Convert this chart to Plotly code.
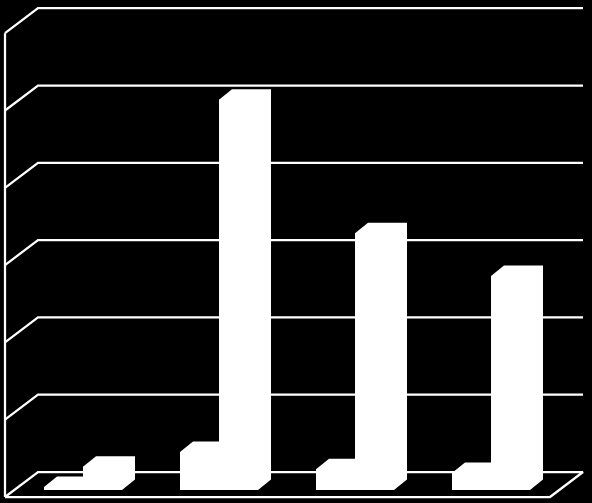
import plotly.graph_objs as go

# values, no labels are shown in the original
categories = [0, 1, 2, 3]
series_a = [0.04, 0.49, 0.27, 0.22]
series_b = [0.30, 5.05, 3.32, 2.77]
grid_values = [0, 1, 2, 3, 4, 5, 6]

W = 592
H = 503
px_per_value = 77.3 # one grid step
px_per_cat = 136
bar_w = 39 / px_per_cat

# fake 3d offsets, bars and walls
bar_dx = 13 / px_per_cat
bar_dy = 10.5 / px_per_value
wall_dx = 33 / px_per_cat
wall_dy = 25 / px_per_value

# the walls start a bit in front of and left of the bars
x_front = -39 / px_per_cat
y_front = -7 / px_per_value
x_right = 506 / px_per_cat

white = "#ffffff"
line_w = 2.25
data = []

# floor outline
data.append(go.Scatter(
	x=[x_front, x_right, x_right + wall_dx, x_front + wall_dx, x_front],
	y=[y_front, y_front, y_front + wall_dy, y_front + wall_dy, y_front],
	mode="lines", line=dict(color=white, width=line_w), hoverinfo="skip",
))

# left wall and back wall grid
data.append(go.Scatter(
	x=[x_front, x_front],
	y=[y_front, y_front + grid_values[-1]],
	mode="lines", line=dict(color=white, width=line_w), hoverinfo="skip",
))
for v in grid_values[1:]:
	data.append(go.Scatter(
		x=[x_front, x_front + wall_dx, x_right + wall_dx],
		y=[y_front + v, y_front + v + wall_dy, y_front + v + wall_dy],
		mode="lines", line=dict(color=white, width=line_w), hoverinfo="skip",
	))

# front faces
for offset, values in ((0, series_a), (bar_w, series_b)):
	data.append(go.Bar(
		x=[c + offset + bar_w / 2 for c in categories],
		y=values,
		width=bar_w,
		marker=dict(color=white, line=dict(width=0)),
		hoverinfo="y",
	))

# top and side of every bar, runs over the front face so no seam shows
for offset, values in ((0, series_a), (bar_w, series_b)):
	for c, v in zip(categories, values):
		left = c + offset
		right = left + bar_w
		data.append(go.Scatter(
			x=[left, left + bar_dx, right + bar_dx, right + bar_dx, right, left, left],
			y=[v, v + bar_dy, v + bar_dy, bar_dy, 0, 0, v],
			mode="lines", fill="toself", fillcolor=white,
			line=dict(color=white, width=0), hoverinfo="skip",
		))

layout = go.Layout(
	width=W,
	height=H,
	margin=dict(l=0, r=0, t=0, b=0),
	showlegend=False,
	barmode="overlay",
	paper_bgcolor="#000000",
	plot_bgcolor="#000000",
	xaxis=dict(visible=False, range=[-44 / px_per_cat, (W - 44) / px_per_cat]),
	yaxis=dict(visible=False, range=[-(H - 490) / px_per_value, 490 / px_per_value]),
)

fig = go.Figure(data=data, layout=layout)
fig.write_html(
	"out.html",
	config=dict(displayModeBar=False),
	post_script="document.body.style.margin='0';document.body.style.background='#000';",
)
